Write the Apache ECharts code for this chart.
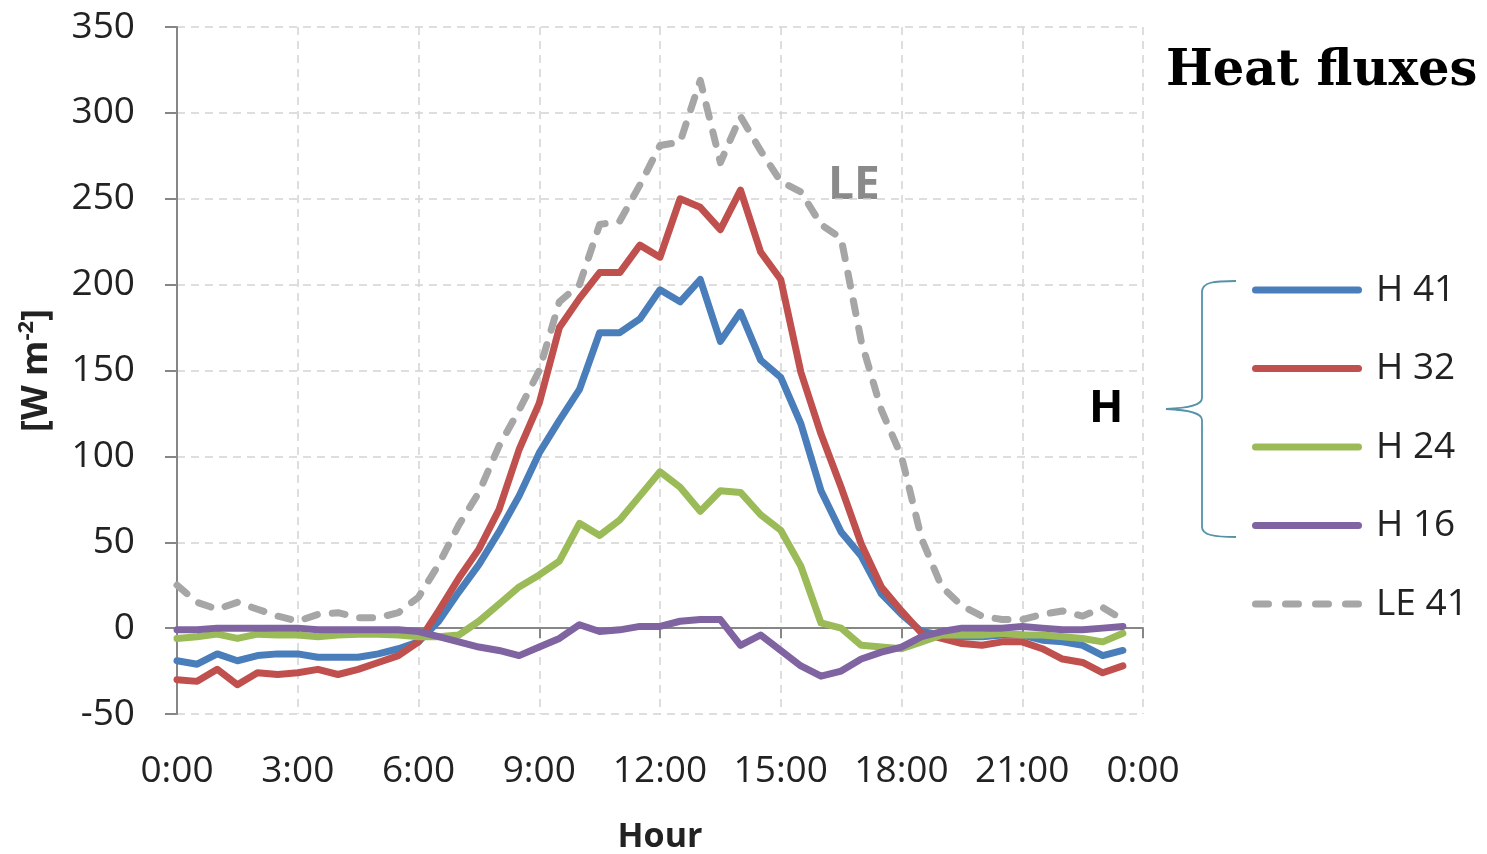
<!DOCTYPE html>
<html>
<head>
<meta charset="utf-8">
<title>Heat fluxes</title>
<script src="https://cdn.jsdelivr.net/npm/echarts@6/dist/echarts.min.js"></script>
<style>
  html, body { margin: 0; padding: 0; background: #fff; }
  #chart { width: 1487px; height: 854px; }
</style>
</head>
<body>
<div id="chart"></div>
<script>
// Half-hourly times of day (the last entry closes the day at midnight)
const hours = [
  '0:00','0:30','1:00','1:30','2:00','2:30','3:00','3:30','4:00','4:30','5:00','5:30',
  '6:00','6:30','7:00','7:30','8:00','8:30','9:00','9:30','10:00','10:30','11:00','11:30',
  '12:00','12:30','13:00','13:30','14:00','14:30','15:00','15:30','16:00','16:30','17:00','17:30',
  '18:00','18:30','19:00','19:30','20:00','20:30','21:00','21:30','22:00','22:30','23:00','23:30',
  '0:00'
];

// Sensible heat flux at four heights and latent heat flux at 41 m [W m-2]
const h41 = [
  -19, -21, -15, -19, -16, -15, -15, -17, -17, -17, -15, -12,
  -8, 4, 21, 37, 56, 77, 102, 121, 139, 172, 172, 180,
  197, 190, 203, 167, 184, 156, 146, 119, 80, 56, 42, 20,
  8, -2, -4, -5, -5, -4, -4, -7, -8, -10, -16, -13
];
const h32 = [
  -30, -31, -24, -33, -26, -27, -26, -24, -27, -24, -20, -16,
  -8, 10, 29, 46, 69, 104, 131, 175, 192, 207, 207, 223,
  216, 250, 245, 232, 255, 219, 203, 149, 113, 82, 49, 24,
  10, -3, -6, -9, -10, -8, -8, -12, -18, -20, -26, -22
];
const h24 = [
  -6, -5, -3.5, -6, -3.5, -4, -4, -5, -4, -3.5, -3.5, -4,
  -5, -5, -4, 4, 14, 24, 31, 39, 61, 54, 63, 77,
  91, 82, 68, 80, 79, 66, 57, 36, 3, 0, -10, -11,
  -12, -8, -4, -4, -4, -3, -4, -4, -5, -6, -8, -3
];
const h16 = [
  -1, -1, 0, 0, 0, 0, 0, -1, -1, -1, -1, -1,
  -2, -5, -8, -11, -13, -16, -11, -6, 2, -2, -1, 1,
  1, 4, 5, 5, -10, -4, -13, -22, -28, -25, -18, -14,
  -11, -5, -2, 0, 0, 0, 1, 0, -1, -1, 0, 1
];
const le41 = [
  25, 15, 11, 15, 11, 7, 4, 8, 9, 6, 6, 9,
  18, 37, 60, 79, 106, 127, 150, 190, 200, 235, 237, 258,
  281, 283, 319, 271, 298, 278, 260, 254, 235, 227, 167, 127,
  100, 52, 24, 13, 7, 5, 5, 8, 10, 7, 12, 5
];

const yTicks = { min: -50, max: 350, step: 50 };

const SANS = '"Open Sans", "Noto Sans", sans-serif';
const TEXT = '#222222';
const AXIS = '#868686';
const GRID = '#d4d4d4';
const BRACE = '#5592a8';
const LINE_W = 7;

// Legend keys: a thick rounded bar for solid series, four short bars for the dashed one
const ICON_SOLID = 'path://M3.5,0 L106.5,0 A3.5,3.5 0 0 1 106.5,7 L3.5,7 A3.5,3.5 0 0 1 3.5,0 Z';
const ICON_DASHED = 'path://' + [0, 30, 60, 90].map(function (x0) {
  const a = x0 + 3.5, b = x0 + 16.5;
  return 'M' + a + ',0 L' + b + ',0 A3.5,3.5 0 0 1 ' + b + ',7 L' + a + ',7 A3.5,3.5 0 0 1 ' + a + ',0 Z';
}).join(' ');

function lineSeries(name, data, color, dashed) {
  return {
    name: name,
    type: 'line',
    data: data,
    xAxisIndex: 0,
    symbol: 'none',
    smooth: false,
    animation: false,
    lineStyle: {
      color: color,
      width: LINE_W,
      type: dashed ? [13, 15] : 'solid',
      cap: 'round',
      join: 'round'
    },
    itemStyle: { color: color }
  };
}

// Curly brace grouping the H legend entries
const braceStyle = { stroke: BRACE, lineWidth: 1.8, fill: null };
function curve(x1, y1, c1x, c1y, c2x, c2y, x2, y2) {
  return {
    type: 'bezierCurve',
    shape: { x1: x1, y1: y1, cpx1: c1x, cpy1: c1y, cpx2: c2x, cpy2: c2y, x2: x2, y2: y2 },
    style: braceStyle
  };
}
function segment(x1, y1, x2, y2) {
  return { type: 'line', shape: { x1: x1, y1: y1, x2: x2, y2: y2 }, style: braceStyle };
}

const chart = echarts.init(document.getElementById('chart'), null, { renderer: 'canvas' });

chart.setOption({
  backgroundColor: '#ffffff',
  animation: false,
  title: {
    text: 'Heat fluxes',
    left: 1166,
    top: 47,
    padding: 0,
    textStyle: {
      fontFamily: '"DejaVu Serif", serif',
      fontWeight: 'bold',
      fontSize: 49.5,
      color: '#000'
    }
  },
  grid: {
    left: 177, right: 344, top: 27, bottom: 140,
    containLabel: false,
    outerBoundsMode: 'none'
  },
  legend: {
    orient: 'vertical',
    left: 1252,
    top: 270,
    padding: 0,
    itemWidth: 110,
    itemHeight: 40,
    itemGap: 38.5,
    symbolKeepAspect: true,
    selectedMode: false,
    textStyle: {
      fontFamily: SANS,
      fontSize: 37,
      lineHeight: 40,
      color: TEXT,
      padding: [0, 0, 0, 9]
    },
    data: [
      { name: 'H 41', icon: ICON_SOLID },
      { name: 'H 32', icon: ICON_SOLID },
      { name: 'H 24', icon: ICON_SOLID },
      { name: 'H 16', icon: ICON_SOLID },
      { name: 'LE 41', icon: ICON_DASHED }
    ]
  },
  xAxis: [
    {
      type: 'category',
      data: hours,
      position: 'bottom',
      boundaryGap: false,
      axisLine: { show: false, onZero: false },
      axisTick: { show: false },
      axisLabel: {
        interval: 5,
        margin: 39,
        fontFamily: SANS,
        fontSize: 37,
        color: TEXT
      },
      splitLine: {
        show: true,
        interval: 5,
        lineStyle: { color: GRID, width: 1.5, type: [8, 6] }
      },
      name: 'Hour',
      nameLocation: 'middle',
      nameGap: 106,
      nameTextStyle: {
        fontFamily: SANS,
        fontWeight: 'bold',
        fontSize: 34,
        color: TEXT
      }
    },
    {
      // zero line with its tick marks
      type: 'category',
      data: hours,
      position: 'top',
      boundaryGap: false,
      axisLine: { show: true, onZero: true, lineStyle: { color: AXIS, width: 2 } },
      axisTick: { show: true, inside: true, interval: 5, length: 10, lineStyle: { color: AXIS, width: 2 } },
      axisLabel: { show: false },
      splitLine: { show: false }
    }
  ],
  yAxis: {
    type: 'value',
    min: yTicks.min,
    max: yTicks.max,
    interval: yTicks.step,
    axisLine: { show: true, onZero: false, lineStyle: { color: AXIS, width: 2 } },
    axisTick: { show: true, length: 12, lineStyle: { color: AXIS, width: 2 } },
    axisLabel: {
      margin: 42,
      fontFamily: SANS,
      fontSize: 37,
      color: TEXT
    },
    splitLine: {
      show: true,
      lineStyle: { color: GRID, width: 1.5, type: [8, 6] }
    },
    name: '{a|[W m}{s|-2}{a|]}',
    nameLocation: 'middle',
    nameGap: 119,
    nameRotate: 90,
    nameTextStyle: {
      rich: {
        a: { fontFamily: SANS, fontWeight: 'bold', fontSize: 36, color: TEXT, lineHeight: 42 },
        s: { fontFamily: SANS, fontWeight: 'bold', fontSize: 22, color: TEXT, lineHeight: 42, verticalAlign: 'top', padding: [0, 0, 15, 0] }
      }
    }
  },
  graphic: [
    {
      type: 'text',
      x: 828,
      y: 186,
      style: {
        text: 'LE',
        font: 'bold 46px ' + SANS,
        fill: '#8a8a8a',
        textVerticalAlign: 'middle'
      }
    },
    {
      type: 'text',
      x: 1089,
      y: 409,
      style: {
        text: 'H',
        font: 'bold 45px ' + SANS,
        fill: '#000',
        textVerticalAlign: 'middle'
      }
    },
    curve(1236, 281, 1214, 281, 1202, 282, 1202, 292),
    segment(1202, 292, 1202, 398),
    curve(1202, 398, 1202, 405, 1190, 408, 1166, 409),
    curve(1166, 409, 1190, 410, 1202, 413, 1202, 420),
    segment(1202, 420, 1202, 527),
    curve(1202, 527, 1202, 535, 1214, 537, 1236, 537)
  ],
  series: [
    lineSeries('H 41', h41, '#4a7ebb', false),
    lineSeries('H 32', h32, '#c0504d', false),
    lineSeries('H 24', h24, '#9bbb59', false),
    lineSeries('H 16', h16, '#8064a2', false),
    lineSeries('LE 41', le41, '#a6a6a6', true)
  ]
});
</script>
</body>
</html>
